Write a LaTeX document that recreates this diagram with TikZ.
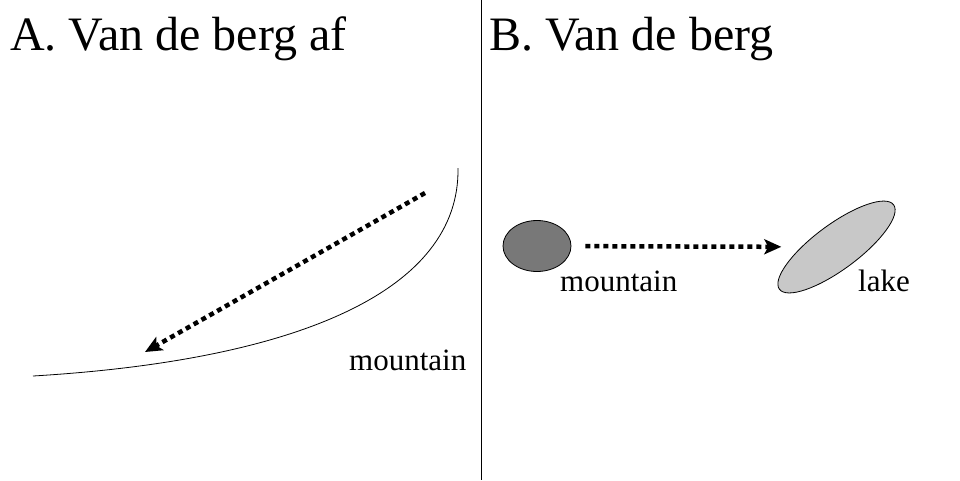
\documentclass[tikz,border=0pt]{standalone}
\usepackage{fontspec}
\setmainfont{Liberation Serif}
\usetikzlibrary{shapes.geometric,arrows.meta}
\definecolor{mtngray}{HTML}{787878}
\definecolor{lakegray}{HTML}{C8C8C8}
\tikzset{
  flow/.style={line width=4.5pt, dash pattern=on 5pt off 4pt, -{Stealth[length=17pt,width=15pt,inset=4pt]}},
  title/.style={anchor=base west, inner sep=0pt, font=\fontsize{48}{52}\selectfont},
  label/.style={anchor=base west, inner sep=0pt, font=\fontsize{31}{34}\selectfont}
}
\begin{document}
\begin{tikzpicture}[x=1pt,y=-1pt]
  \useasboundingbox (0,0) rectangle (960,480);
  \draw[line width=0.8pt] (481,0) -- (481,480);
  % A
  \node[title] (TA) at (10,50) {A. Van de berg af};
  \draw[line width=0.8pt] (33,376) .. controls (300,360) and (460,290) .. (458,168);
  \coordinate (TOP) at (425,193);
  \coordinate (FOOT) at (145,352);
  \draw[flow] (TOP) -- (FOOT);
  \node[label] (MA) at (349,370) {mountain};
  % B
  \node[title] (TB) at (489,50) {B. Van de berg};
  \begin{scope}[every node/.style={draw, ellipse, inner sep=0pt, line width=0.8pt}]
  \node[fill=mtngray, minimum width=68pt, minimum height=51pt] (MTN) at (537,246) {};
  \node[fill=lakegray, minimum width=142pt, minimum height=45pt, rotate=36.5] (LAKE) at (836.5,247) {};
  \end{scope}
  \draw[flow, shorten <=14pt, shorten >=20pt] (MTN) -- (LAKE);
  \node[label] (MB) at (560,291) {mountain};
  \node[label] (LB) at (858,291) {lake};
\end{tikzpicture}
\end{document}
